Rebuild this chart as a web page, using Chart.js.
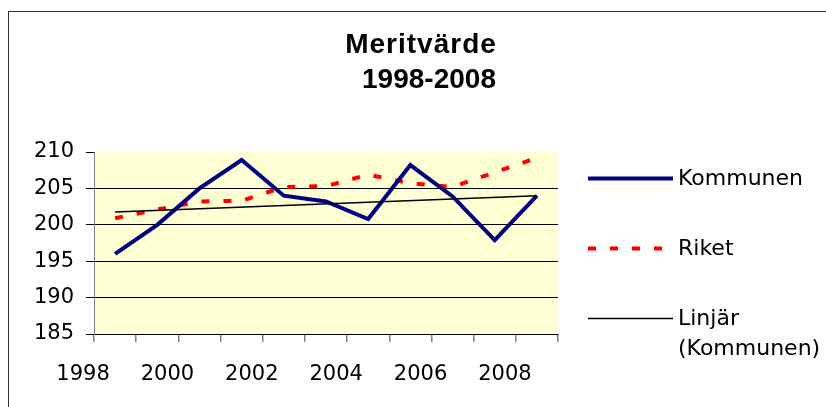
<!DOCTYPE html>
<html lang="sv">
<head>
<meta charset="utf-8">
<title>Meritvärde 1998-2008</title>
<script src="https://cdn.jsdelivr.net/npm/chart.js"></script>
<style>
  html, body { margin: 0; padding: 0; background: #fff; }
  #wrap { width: 826px; height: 407px; }
</style>
</head>
<body>
<div id="wrap"><canvas id="chart" width="826" height="407"></canvas></div>
<script>
// Years on the category axis (only every other one gets a label)
const years = ["1998", "1999", "2000", "2001", "2002", "2003", "2004", "2005", "2006", "2007", "2008"];

// Meritvärde per year
const kommunen = [196.0, 200.0, 205.0, 208.9, 204.0, 203.2, 200.8, 208.2, 203.9, 197.9, 204.0];
const riket    = [200.9, 202.1, 203.2, 203.3, 205.2, 205.3, 206.9, 205.7, 205.2, 207.2, 209.2];

// Excel's linear trendline for Kommunen: only the two ends are read, the line spans the gap
const trendKommunen = [201.75, null, null, null, null, null, null, null, null, null, 204.0];

const yMin = 185;
const yMax = 210;
const yStep = 5;

const titleLines = ["Meritvärde", "1998-2008"];

const TICK_FONT = { family: "'DejaVu Sans', sans-serif", size: 21 };

// Background, frame, title and the legend on the right (Excel look)
const chrome = {
  id: "chrome",
  beforeDraw(chart) {
    const { ctx, chartArea: a } = chart;
    ctx.save();
    ctx.fillStyle = "#fff";
    ctx.fillRect(0, 0, chart.width, chart.height);
    ctx.strokeStyle = "#333";
    ctx.lineWidth = 1;
    ctx.strokeRect(8.5, 11.5, chart.width, chart.height);
    ctx.fillStyle = "#FFFFD4";
    ctx.fillRect(a.left, a.top, a.right - a.left, a.bottom - a.top);
    ctx.restore();
  },
  afterDraw(chart) {
    const ctx = chart.ctx;
    ctx.save();

    // title
    ctx.fillStyle = "#000";
    ctx.font = "bold 28px 'Liberation Sans', Arial, sans-serif";
    ctx.textAlign = "center";
    ctx.textBaseline = "alphabetic";
    ctx.letterSpacing = "1px";
    ctx.fillText(titleLines[0], 421, 53);
    ctx.letterSpacing = "0px";
    ctx.fillText(titleLines[1], 429, 88);

    // legend
    ctx.textAlign = "left";
    ctx.font = "22px 'DejaVu Sans', sans-serif";
    chart.data.datasets.forEach((ds, i) => {
      const base = 185 + i * 70;
      ctx.strokeStyle = ds.borderColor;
      ctx.lineWidth = ds.borderWidth;
      ctx.setLineDash(ds.borderDash || []);
      ctx.beginPath();
      ctx.moveTo(588, base - 6.5);
      ctx.lineTo(673, base - 6.5);
      ctx.stroke();
      ds.label.replace(" (", "\n(").split("\n")
        .forEach((line, j) => ctx.fillText(line, 678, base + j * 30));
    });

    ctx.restore();
  }
};

new Chart(document.getElementById("chart"), {
  type: "line",
  data: {
    labels: years,
    datasets: [
      {
        label: "Kommunen",
        data: kommunen,
        borderColor: "#000080",
        borderWidth: 4,
        order: 1,
      },
      {
        label: "Riket",
        data: riket,
        borderColor: "#FF0000",
        borderWidth: 4,
        borderDash: [8, 14],
        order: 2,
      },
      {
        label: "Linjär (Kommunen)",
        data: trendKommunen,
        borderColor: "#000",
        borderWidth: 1.5,
        spanGaps: true,
        order: 0,
      },
    ],
  },
  options: {
    responsive: false,
    animation: false,
    events: [],
    elements: {
      line: { tension: 0, fill: false },
      point: { radius: 0 },
    },
    layout: {
      padding: { left: 10, right: 268, top: 152, bottom: 13 },
    },
    plugins: {
      legend: { display: false },
      title: { display: false },
      tooltip: { enabled: false },
    },
    scales: {
      x: {
        offset: true,
        grid: {
          offset: true,
          drawOnChartArea: false,
          tickLength: 8,
          color: "#808080",
          lineWidth: 1.5,
        },
        border: { color: "#000", width: 1 },
        ticks: {
          autoSkip: false,
          maxRotation: 0,
          labelOffset: -32,
          padding: 20,
          color: "#000",
          font: TICK_FONT,
          callback: (v, i) => (i % 2 === 0 ? years[i] : ""),
        },
        afterFit: (s) => { s.height = 60; },
      },
      y: {
        min: yMin,
        max: yMax,
        ticks: {
          stepSize: yStep,
          padding: 12,
          color: "#000",
          font: TICK_FONT,
        },
        grid: {
          color: (c) => (c.tick && c.tick.value === yMax ? "rgba(0,0,0,0)" : "#000"),
          tickColor: "#000",
          tickLength: 8,
          lineWidth: 1,
        },
        border: { color: "#808080", width: 1 },
        afterFit: (s) => { s.width = 84; },
      },
    },
  },
  plugins: [chrome],
});
</script>
</body>
</html>
